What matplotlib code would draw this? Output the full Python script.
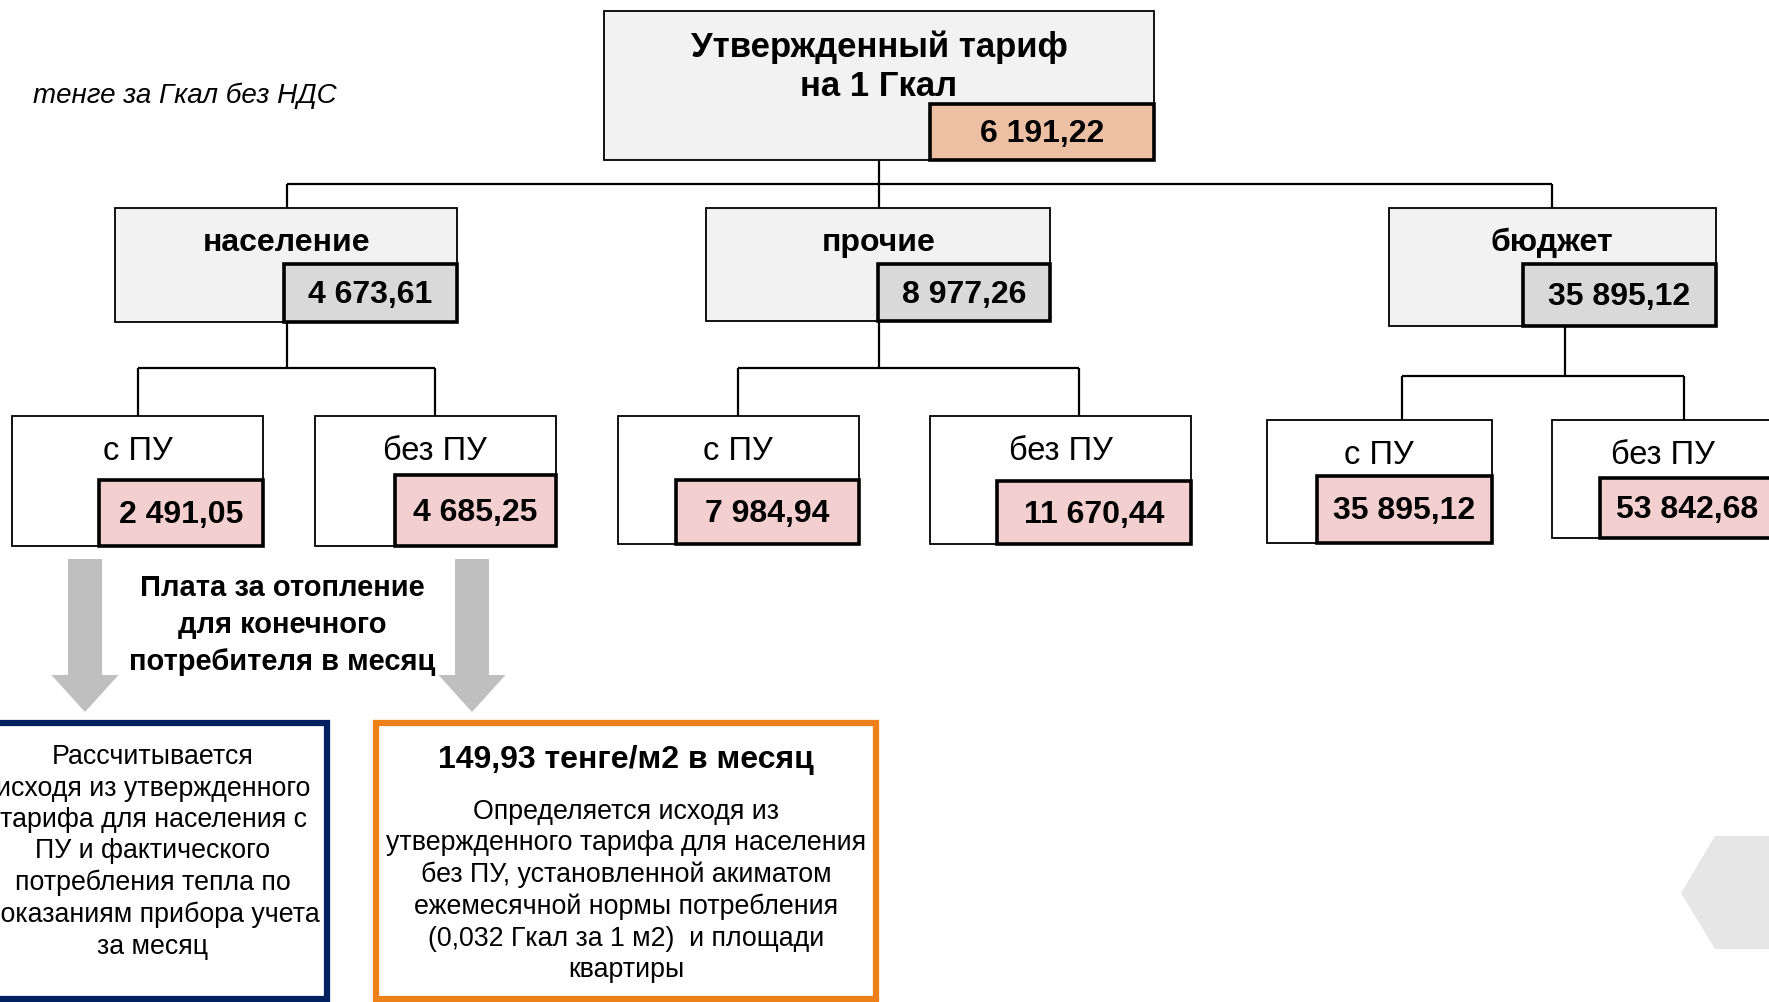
import matplotlib.pyplot as plt
from matplotlib.patches import Rectangle, Polygon, FancyArrow

plt.rcParams['font.family'] = ['Liberation Sans', 'DejaVu Sans']

# Data
top_title = "Утвержденный тариф\nна 1 Гкал"
top_value = "6 191,22"
groups = ["население", "прочие", "бюджет"]
group_values = ["4 673,61", "8 977,26", "35 895,12"]
sub_labels = ["с ПУ", "без ПУ", "с ПУ", "без ПУ", "с ПУ", "без ПУ"]
sub_values = ["2 491,05", "4 685,25", "7 984,94", "11 670,44", "35 895,12", "53 842,68"]
unit_note = "тенге за Гкал без НДС"
arrow_caption = "Плата за отопление\nдля конечного\nпотребителя в месяц"
left_note = ("Рассчитывается\nисходя из утвержденного\nтарифа для населения с\n"
             "ПУ и фактического\nпотребления тепла по\nпоказаниям прибора учета\nза месяц")
right_title = "149,93 тенге/м2 в месяц"
right_note = ("Определяется исходя из\nутвержденного тарифа для населения\n"
              "без ПУ, установленной акиматом\nежемесячной нормы потребления\n"
              "(0,032 Гкал за 1 м2)  и площади\nквартиры")

W, H = 1769, 1003
fig = plt.figure(figsize=(W / 100, H / 100), dpi=100)
ax = fig.add_axes([0, 0, 1, 1])
ax.set_xlim(0, W)
ax.set_ylim(H, 0)
ax.axis("off")


def box(x0, y0, x1, y1, fc, lw, ec="black", z=2):
    ax.add_patch(Rectangle((x0, y0), x1 - x0, y1 - y0, facecolor=fc,
                           edgecolor=ec, linewidth=lw, zorder=z))


def line(xs, ys):
    ax.plot(xs, ys, color="black", linewidth=1.6, zorder=1,
            solid_capstyle="butt")


# top box
box(604, 12, 1154, 161, "#F2F2F2", 1.3)
box(930, 105, 1154, 161, "#EDBFA3", 2.6, z=3)
ax.text(879, 67, top_title, ha="center", va="center", fontsize=25,
        fontweight="bold", linespacing=1.22, zorder=4)
ax.text(1042, 134, top_value, ha="center", va="center", fontsize=23,
        fontweight="bold", zorder=4)

ax.text(33, 96, unit_note, ha="left", va="center", fontsize=20, style="italic")

# connectors from top
line([879, 879], [161, 185])
line([287, 1552], [185, 185])
for gx in [287, 879, 1552]:
    line([gx, gx], [185, 209])

# level 2 boxes
g_boxes = [(115, 209, 457, 323), (706, 209, 1050, 322), (1389, 209, 1716, 327)]
g_vboxes = [(284, 265, 457, 323), (878, 265, 1050, 322), (1523, 265, 1716, 327)]
g_title_x = [287, 879, 1552]
for i, name in enumerate(groups):
    b = g_boxes[i]
    v = g_vboxes[i]
    box(*b, "#F2F2F2", 1.3)
    box(*v, "#D9D9D9", 2.6, z=3)
    ax.text(g_title_x[i], 243, name, ha="center", va="center", fontsize=23,
            fontweight="bold", zorder=4)
    ax.text((v[0] + v[2]) / 2, (v[1] + v[3]) / 2 + 1, group_values[i],
            ha="center", va="center", fontsize=23, fontweight="bold", zorder=4)

# connectors to level 3
conn = [(287, 323, 369, 138, 435, 417), (879, 322, 369, 738, 1079, 417),
        (1565, 327, 377, 1402, 1684, 421)]
for cx, ytop, ymid, xl, xr, ybot in conn:
    line([cx, cx], [ytop, ymid])
    line([xl, xr], [ymid, ymid])
    line([xl, xl], [ymid, ybot])
    line([xr, xr], [ymid, ybot])

# level 3 boxes
s_boxes = [(12, 417, 263, 547), (315, 417, 556, 547), (618, 417, 859, 545),
           (930, 417, 1191, 545), (1267, 421, 1492, 544), (1552, 421, 1790, 539)]
s_vboxes = [(99, 481, 263, 547), (395, 476, 556, 547), (676, 481, 859, 545),
            (997, 482, 1191, 545), (1317, 477, 1492, 544), (1600, 479, 1790, 539)]
s_title_x = [138, 435, 738, 1061, 1379, 1663]
s_title_y = [452, 452, 452, 452, 455, 455]
s_value_x = [181, 475, 767, 1094, 1404, 1687]
for i, lab in enumerate(sub_labels):
    box(*s_boxes[i], "white", 1.3)
    v = s_vboxes[i]
    box(*v, "#F4CFCF", 2.6, z=3)
    ax.text(s_title_x[i], s_title_y[i], lab, ha="center", va="center",
            fontsize=23.5, zorder=4)
    ax.text(s_value_x[i], (v[1] + v[3]) / 2 + 1, sub_values[i], ha="center",
            va="center", fontsize=23, fontweight="bold", zorder=4)

# gray arrows
for ax_x in [85, 472]:
    ax.add_patch(FancyArrow(ax_x, 560, 0, 153, width=34, head_width=67,
                            head_length=37, length_includes_head=True,
                            facecolor="#BFBFBF", edgecolor="none", zorder=2))
ax.text(282, 625, arrow_caption, ha="center", va="center", fontsize=21,
        fontweight="bold", linespacing=1.42)

# bottom boxes
box(-20, 724, 327, 1000, "white", 4.5, ec="#002060")
ax.text(153, 852, left_note, ha="center", va="center", fontsize=19.3,
        linespacing=1.27)
box(376, 724, 876, 1000, "white", 4.5, ec="#EE8019")
ax.text(626, 760, right_title, ha="center", va="center", fontsize=23,
        fontweight="bold")
ax.text(626, 891, right_note, ha="center", va="center", fontsize=19.3,
        linespacing=1.27)

# decorative hexagon at right edge
ax.add_patch(Polygon([(1681, 894), (1715, 837), (1790, 837), (1790, 950),
                      (1715, 950)], closed=True, facecolor="#E6E6E6",
                     edgecolor="none", zorder=0))

fig.savefig("out.png", dpi=100)
